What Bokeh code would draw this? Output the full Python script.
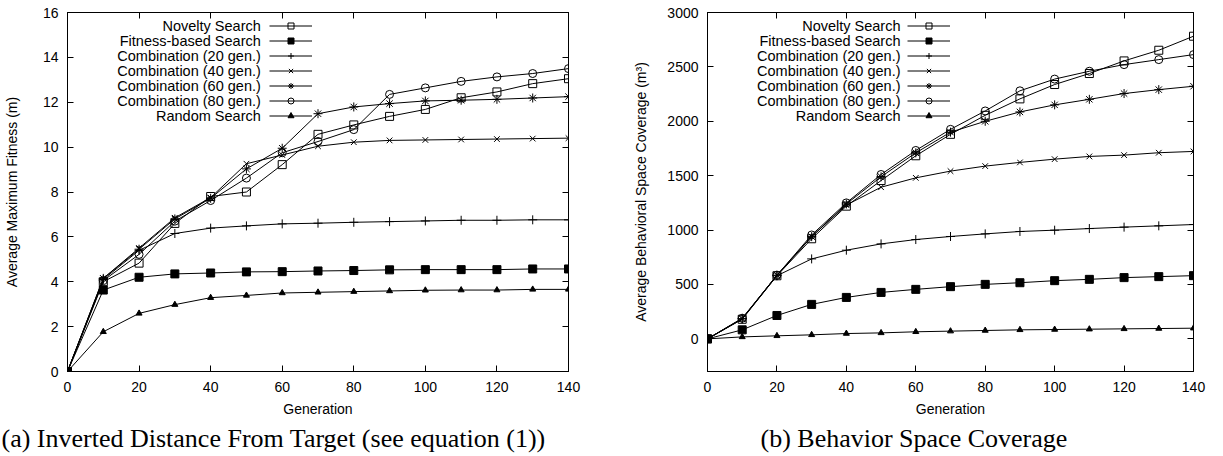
from bokeh.plotting import figure
from bokeh.models import (Range1d, LinearAxis, SingleIntervalTicker, Legend,
                          LegendItem, Label, Title)
from bokeh.layouts import row
from bokeh.embed import file_html
from bokeh.resources import INLINE

generations = [0, 10, 20, 30, 40, 50, 60, 70, 80, 90, 100, 110, 120, 130, 140]

series_names = ["Novelty Search", "Fitness-based Search", "Combination (20 gen.)",
                "Combination (40 gen.)", "Combination (60 gen.)",
                "Combination (80 gen.)", "Random Search"]

# (a) Average maximum fitness (m)
fit_novelty = [0, 4.0, 4.83, 6.6, 7.8, 8.0, 9.22, 10.57, 10.99, 11.37, 11.68, 12.2, 12.46, 12.83, 13.05]
fit_fitness = [0, 3.63, 4.2, 4.35, 4.39, 4.44, 4.45, 4.48, 4.5, 4.53, 4.54, 4.54, 4.54, 4.57, 4.57]
fit_comb20 = [0, 4.1, 5.4, 6.15, 6.39, 6.49, 6.58, 6.61, 6.65, 6.68, 6.71, 6.74, 6.74, 6.76, 6.76]
fit_comb40 = [0, 4.15, 5.5, 6.85, 7.75, 9.26, 9.65, 10.04, 10.22, 10.3, 10.32, 10.34, 10.36, 10.38, 10.4]
fit_comb60 = [0, 4.15, 5.45, 6.8, 7.72, 9.03, 9.95, 11.49, 11.79, 11.94, 12.06, 12.09, 12.13, 12.19, 12.25]
fit_comb80 = [0, 4.05, 5.22, 6.7, 7.62, 8.62, 9.75, 10.25, 10.78, 12.35, 12.64, 12.93, 13.13, 13.28, 13.5]
fit_random = [0, 1.77, 2.59, 2.98, 3.29, 3.39, 3.5, 3.53, 3.56, 3.59, 3.62, 3.63, 3.63, 3.66, 3.66]

# (b) Average behavioral space coverage (m^3)
cov_novelty = [0, 180, 580, 920, 1220, 1455, 1683, 1880, 2055, 2206, 2338, 2439, 2555, 2653, 2782]
cov_fitness = [0, 83, 215, 317, 381, 427, 455, 480, 501, 516, 535, 547, 563, 572, 581]
cov_comb20 = [0, 185, 580, 735, 815, 873, 913, 941, 965, 987, 999, 1014, 1027, 1039, 1051]
cov_comb40 = [0, 185, 585, 940, 1230, 1394, 1480, 1542, 1588, 1622, 1652, 1677, 1689, 1711, 1723]
cov_comb60 = [0, 185, 585, 940, 1240, 1490, 1710, 1900, 2000, 2086, 2151, 2202, 2255, 2291, 2322]
cov_comb80 = [0, 190, 585, 955, 1250, 1511, 1732, 1926, 2095, 2280, 2388, 2460, 2521, 2567, 2613]
cov_random = [0, 18, 28, 37, 49, 55, 65, 71, 77, 83, 86, 89, 92, 95, 98]

x_ticks_interval = 20
fit_ticks_interval = 2
cov_ticks_interval = 500

FONT = "Liberation Sans"
FS = "14px"

markers = [("square", None, 8), ("square", "black", 8), ("cross", None, 9),
           ("x", None, 8), ("asterisk", None, 9), ("circle", None, 8),
           ("triangle", "black", 6)]


def style_axis(ax, labels=True):
    ax.major_tick_in = 6
    ax.major_tick_out = 0
    ax.minor_tick_in = 0
    ax.minor_tick_out = 0
    ax.axis_line_color = "black"
    ax.major_tick_line_color = "black"
    ax.major_label_text_font = FONT
    ax.major_label_text_color = "#000000"
    if labels:
        ax.major_label_text_font_size = FS
        ax.major_label_standoff = 10
    else:
        ax.major_label_text_font_size = "0px"
        ax.major_label_text_color = None
        ax.major_label_standoff = 0
    ax.axis_label_text_font = FONT
    ax.axis_label_text_font_size = FS
    ax.axis_label_text_font_style = "normal"
    ax.axis_label_text_color = "black"


def build(width, bl, br, yrange, yint, ylabel, ystandoff, data, leg_x, txt_x,
          caption, cap_offset):
    p = figure(width=width, height=454, output_backend="svg", toolbar_location=None,
               x_range=Range1d(0, 140), y_range=Range1d(*yrange),
               min_border_left=bl, min_border_right=br, min_border_top=12,
               min_border_bottom=83)
    p.background_fill_color = "white"
    p.border_fill_color = "white"
    p.outline_line_color = "black"
    p.outline_line_width = 1
    p.xgrid.visible = False
    p.ygrid.visible = False

    p.xaxis.ticker = SingleIntervalTicker(interval=x_ticks_interval)
    p.yaxis.ticker = SingleIntervalTicker(interval=yint)
    p.xaxis.axis_label = "Generation"
    p.yaxis.axis_label = ylabel
    style_axis(p.xaxis[0])
    style_axis(p.yaxis[0])
    p.xaxis.axis_label_standoff = 6
    p.yaxis.major_label_standoff = 9
    p.yaxis.axis_label_standoff = ystandoff

    top = LinearAxis(ticker=SingleIntervalTicker(interval=x_ticks_interval))
    style_axis(top, labels=False)
    p.add_layout(top, "above")
    right = LinearAxis(ticker=SingleIntervalTicker(interval=yint))
    style_axis(right, labels=False)
    p.add_layout(right, "right")

    items = []
    for name, ys, (mk, fill, sz) in zip(series_names, data, markers):
        lr = p.line(generations, ys, line_color="black", line_width=1)
        sr = p.scatter(generations, ys, marker=mk, size=sz, line_color="black",
                       fill_color=fill, line_width=1)
        items.append(LegendItem(label=" ", renderers=[lr, sr]))

    # location is the legend's bottom-left corner, in px from the frame's bottom-left
    leg = Legend(items=items, location=(leg_x, 248.5), orientation="vertical",
                 glyph_width=43, glyph_height=15, label_height=15, label_width=0,
                 label_standoff=0, spacing=0, padding=0, margin=0,
                 border_line_alpha=0, background_fill_alpha=0,
                 label_text_font_size="8px")
    p.add_layout(leg)

    for i, name in enumerate(series_names):
        p.add_layout(Label(x=txt_x, y=346 - 15 * i, x_units="screen", y_units="screen",
                           text=name, text_align="right", text_baseline="middle",
                           text_font=FONT, text_font_size="14.5px", text_color="black"))

    cap = Title(text=caption, align="left", offset=cap_offset, standoff=4,
                text_font="Liberation Serif", text_font_size="26px",
                text_font_style="normal", text_color="black")
    p.add_layout(cap, "below")
    return p


p1 = build(620, 67, 52, (0, 16), fit_ticks_interval, "Average Maximum Fitness (m)", 20,
           [fit_novelty, fit_fitness, fit_comb20, fit_comb40, fit_comb60, fit_comb80, fit_random],
           201.5, 193.3, "(a) Inverted Distance From Target (see equation (1))", -66)
p2 = build(600, 87, 27, (-300, 3000), cov_ticks_interval,
           "Average Behavioral Space Coverage (m\u00b3)", 15,
           [cov_novelty, cov_fitness, cov_comb20, cov_comb40, cov_comb60, cov_comb80, cov_random],
           200, 193, "(b) Behavior Space Coverage", 53)

layout = row(p1, p2)
open("out.html", "w").write(file_html(layout, INLINE))
